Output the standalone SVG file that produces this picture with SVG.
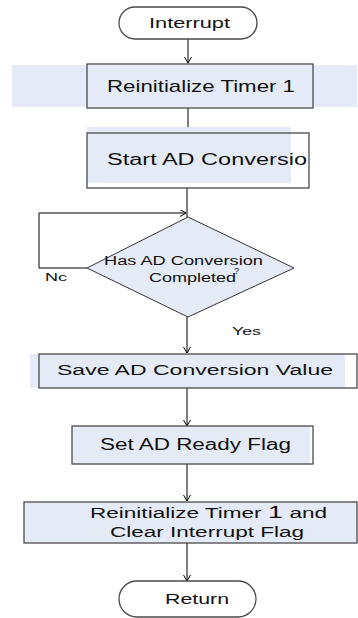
<svg xmlns="http://www.w3.org/2000/svg" width="358" height="618" viewBox="0 0 358 618">
<style>
.band{fill:#e5ebf6;stroke:none}
.box{fill:none;stroke:#4a4a4a;stroke-width:1.3}
.term{fill:#ffffff;stroke:#4a4a4a;stroke-width:1.3}
.dia{fill:#e5ebf6;stroke:#333;stroke-width:1}
.t{font-family:"Liberation Sans",Arial,sans-serif;fill:#111}
.c{fill:none;stroke:#000;stroke-width:1}
</style>
<defs>
<marker id="a" markerWidth="8" markerHeight="8" refX="6" refY="3.5" orient="auto" markerUnits="userSpaceOnUse">
<path d="M0,0 L6,3.5 L0,7" fill="none" stroke="#000" stroke-width="1"/>
</marker>
</defs>
<rect width="358" height="618" fill="#fff"/>
<g id="connectors">
<line class="c" x1="188" y1="39" x2="188" y2="63" marker-end="url(#a)"/>
<line class="c" x1="188" y1="108" x2="188" y2="133" marker-end="url(#a)"/>
<line class="c" x1="187" y1="188" x2="187" y2="217"/>
<polyline class="c" points="87,268 39,268 39,213 186,213" marker-end="url(#a)"/>
<line class="c" x1="187" y1="317" x2="187" y2="353" marker-end="url(#a)"/>
<line class="c" x1="187" y1="388" x2="187" y2="426" marker-end="url(#a)"/>
<line class="c" x1="187" y1="464" x2="187" y2="501" marker-end="url(#a)"/>
<line class="c" x1="187" y1="543" x2="187" y2="581" marker-end="url(#a)"/>
<text class="t" x="45" y="281" font-size="10.5" textLength="22" lengthAdjust="spacingAndGlyphs">Nc</text>
<text class="t" x="232" y="335" font-size="10.5" textLength="29" lengthAdjust="spacingAndGlyphs">Yes</text>
</g>
<g id="interrupt">
<rect class="term" x="119" y="7" width="138" height="32" rx="16" ry="16"/>
<text class="t" x="149" y="27.5" font-size="14.5" textLength="81" lengthAdjust="spacingAndGlyphs">Interrupt</text>
</g>
<g id="reinit1">
<rect class="band" x="12" y="65" width="345" height="42"/>
<rect class="box" x="87" y="64" width="226" height="44"/>
<text class="t" x="107" y="92" font-size="17" textLength="188" lengthAdjust="spacingAndGlyphs">Reinitialize Timer 1</text>
</g>
<g id="startad">
<rect class="band" x="87" y="127" width="204" height="56"/>
<rect class="box" x="87" y="133" width="222" height="55"/>
<text class="t" x="107" y="165" font-size="16" textLength="200" lengthAdjust="spacingAndGlyphs">Start AD Conversio</text>
</g>
<g id="decision">
<polygon class="dia" points="188,217 294,268 188,317 87,268"/>
<text class="t" x="104" y="265" font-size="12" textLength="159" lengthAdjust="spacingAndGlyphs">Has AD Conversion</text>
<text class="t" x="149" y="282" font-size="12" textLength="87" lengthAdjust="spacingAndGlyphs">Completed</text>
<text class="t" x="234" y="274" font-size="9">?</text>
</g>
<g id="save">
<rect class="band" x="30" y="354" width="315" height="34"/>
<rect class="box" x="39" y="354" width="318" height="34"/>
<text class="t" x="57" y="375" font-size="15.5" textLength="276" lengthAdjust="spacingAndGlyphs">Save AD Conversion Value</text>
</g>
<g id="setflag">
<rect class="band" x="72" y="426" width="238" height="38"/>
<rect class="box" x="72" y="426" width="241" height="38"/>
<text class="t" x="100" y="450" font-size="16" textLength="191" lengthAdjust="spacingAndGlyphs">Set AD Ready Flag</text>
</g>
<g id="reinit2">
<rect class="band" x="24" y="502" width="333" height="41"/>
<rect class="box" x="24" y="502" width="333" height="41"/>
<text class="t" x="90" y="518" font-size="14" textLength="237" lengthAdjust="spacingAndGlyphs">Reinitialize Timer <tspan font-size="17">1</tspan>  and</text>
<text class="t" x="110" y="537" font-size="14" textLength="194" lengthAdjust="spacingAndGlyphs">Clear Interrupt Flag</text>
</g>
<g id="return">
<rect class="term" x="119" y="581" width="137" height="36" rx="18" ry="18"/>
<text class="t" x="165" y="604" font-size="14.5" textLength="64" lengthAdjust="spacingAndGlyphs">Return</text>
</g>
</svg>
